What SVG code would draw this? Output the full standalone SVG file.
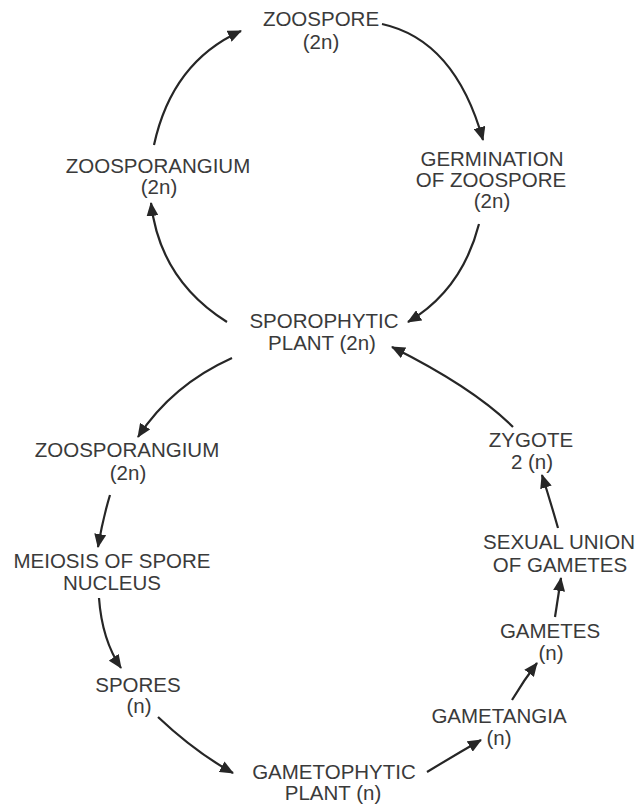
<svg xmlns="http://www.w3.org/2000/svg" width="635" height="807" viewBox="0 0 635 807">
<defs>
<marker id="ah" markerUnits="userSpaceOnUse" markerWidth="14" markerHeight="12" viewBox="0 0 14 12" refX="13" refY="6" orient="auto">
<path d="M0,0 L14,6 L0,12 z" fill="#262626"/>
</marker>
<style>
text{font-family:"Liberation Sans",Arial,sans-serif;font-size:20.5px;fill:#3a3a3a;text-anchor:middle}
.c path{fill:none;stroke:#262626;stroke-width:2.2;marker-end:url(#ah)}
</style>
</defs>
<rect width="635" height="807" fill="#ffffff"/>
<g id="zoospore"><text x="321" y="26">ZOOSPORE</text><text x="321" y="49">(2n)</text></g>
<g id="zoosporangium-top"><text x="158" y="173">ZOOSPORANGIUM</text><text x="159" y="194">(2n)</text></g>
<g id="germination"><text x="492" y="166">GERMINATION</text><text x="491" y="187">OF ZOOSPORE</text><text x="492" y="208">(2n)</text></g>
<g id="sporophytic"><text x="324" y="328">SPOROPHYTIC</text><text x="322" y="350">PLANT (2n)</text></g>
<g id="zoosporangium-low"><text x="127" y="457">ZOOSPORANGIUM</text><text x="128" y="480">(2n)</text></g>
<g id="meiosis"><text x="112" y="568">MEIOSIS OF SPORE</text><text x="112" y="590">NUCLEUS</text></g>
<g id="spores"><text x="138" y="692">SPORES</text><text x="139" y="713">(n)</text></g>
<g id="gametophytic"><text x="334" y="779">GAMETOPHYTIC</text><text x="333" y="800">PLANT (n)</text></g>
<g id="gametangia"><text x="499" y="723">GAMETANGIA</text><text x="499" y="745">(n)</text></g>
<g id="gametes"><text x="550" y="638">GAMETES</text><text x="551" y="660">(n)</text></g>
<g id="sexual-union"><text x="559" y="549">SEXUAL UNION</text><text x="560" y="572">OF GAMETES</text></g>
<g id="zygote"><text x="531" y="447">ZYGOTE</text><text x="532" y="469">2 (n)</text></g>
<g id="connectors" class="c">
<path d="M154,145 Q172,62 241,31"/>
<path d="M382,24 Q455,40 483,140"/>
<path d="M479,224 Q462,290 408,322"/>
<path d="M227,322 Q160,280 151,203"/>
<path d="M232,358 Q172,385 138,437"/>
<path d="M110,495 Q103,518 98,547"/>
<path d="M99,598 Q102,640 121,668"/>
<path d="M158,717 Q195,752 233,773"/>
<path d="M427,772 Q455,755 481,740"/>
<path d="M512,700 Q524,680 537,663"/>
<path d="M555,617 Q558,598 561,578"/>
<path d="M558,528 Q550,500 542,475"/>
<path d="M513,427 Q474,388 392,347"/>
</g>
</svg>
